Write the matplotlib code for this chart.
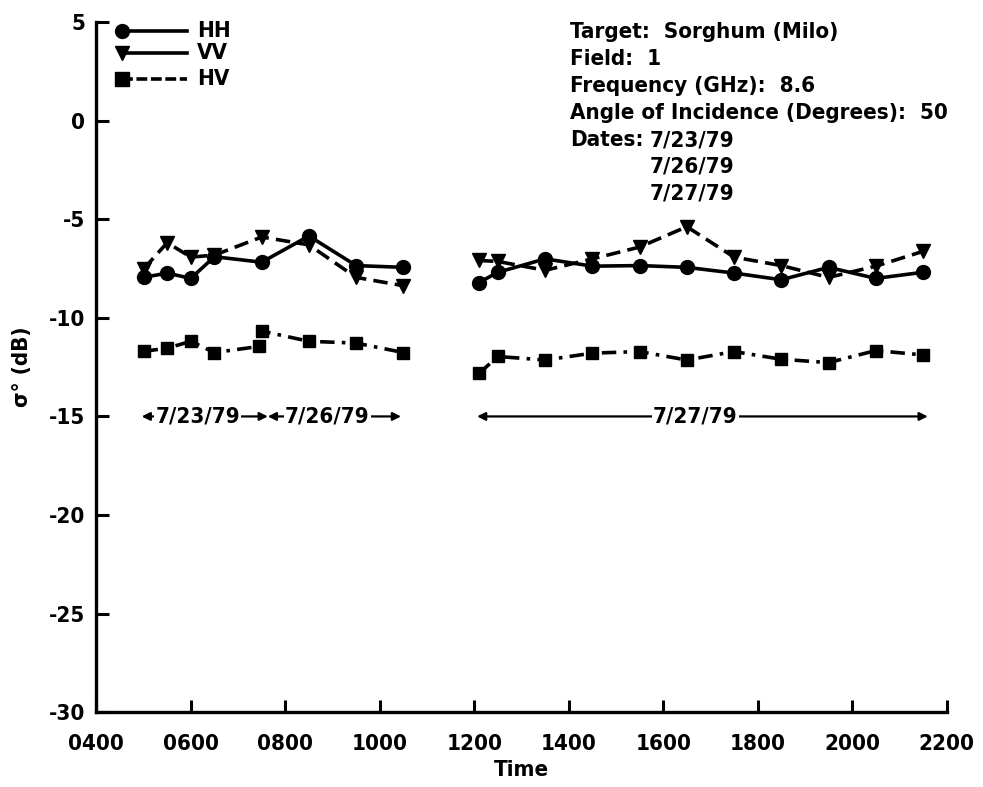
import matplotlib
matplotlib.use("Agg")
import matplotlib.pyplot as plt
from matplotlib.ticker import FixedLocator, FuncFormatter

plt.rcParams["font.family"] = ["DejaVu Sans"]
plt.rcParams["font.stretch"] = "condensed"
plt.rcParams["font.weight"] = "bold"
plt.rcParams["axes.labelweight"] = "bold"
plt.rcParams["axes.unicode_minus"] = False

# time of day in hours; two measurement blocks with a gap between them
time_am = [5.0, 5.5, 6.0, 6.5, 7.5, 8.5, 9.5, 10.5]
hh_am = [-7.95, -7.73, -8.0, -6.9, -7.18, -5.85, -7.35, -7.44]
vv_am = [-7.52, -6.19, -6.92, -6.82, -5.9, -6.3, -7.95, -8.37]
time_hv_am = [5.0, 5.5, 6.0, 6.5, 7.45, 7.5, 8.5, 9.5, 10.5]
hv_am = [-11.7, -11.54, -11.19, -11.76, -11.45, -10.67, -11.19, -11.28, -11.76]

time_pm = [12.1, 12.5, 13.5, 14.5, 15.5, 16.5, 17.5, 18.5, 19.5, 20.5, 21.5]
hh_pm = [-8.21, -7.69, -7.01, -7.38, -7.35, -7.44, -7.73, -8.07, -7.44, -8.0, -7.69]
vv_pm = [-7.09, -7.14, -7.59, -7.01, -6.41, -5.38, -6.92, -7.35, -7.95, -7.38, -6.63]
hv_pm = [-12.82, -11.96, -12.14, -11.79, -11.71, -12.14, -11.71, -12.1, -12.27, -11.66, -11.88]

x_ticks = [4, 6, 8, 10, 12, 14, 16, 18, 20, 22]
y_ticks = [5, 0, -5, -10, -15, -20, -25, -30]

date_spans = [("7/23/79", 4.96, 7.63), ("7/26/79", 7.63, 10.45), ("7/27/79", 12.06, 21.6)]

info_lines = [
    "Target:  Sorghum (Milo)",
    "Field:  1",
    "Frequency (GHz):  8.6",
    "Angle of Incidence (Degrees):  50",
    "Dates:",
]
date_lines = ["7/23/79", "7/26/79", "7/27/79"]

LW = 2.6
MS = 10
FS = 16

fig = plt.figure(figsize=(9.83, 7.87), dpi=100)
ax = fig.add_axes([0.098, 0.095, 0.865, 0.877])

for t, hh, vv in [(time_am, hh_am, vv_am), (time_pm, hh_pm, vv_pm)]:
    ax.plot(t, hh, color="black", lw=LW, ls="-", marker="o", ms=MS)
    ax.plot(t, vv, color="black", lw=LW, ls=(0, (4, 2)), marker="v", ms=MS)
ax.plot(time_hv_am, hv_am, color="black", lw=LW, ls=(0, (4, 2, 1, 2)), marker="s", ms=MS - 1)
ax.plot(time_pm, hv_pm, color="black", lw=LW, ls=(0, (4, 2, 1, 2)), marker="s", ms=MS - 1)

# date range arrows at -15 dB
for label, x0, x1 in date_spans:
    ax.annotate("", xy=(x0, -15), xytext=(x1, -15),
                arrowprops=dict(arrowstyle="<|-|>", color="black", lw=1.6,
                                shrinkA=0, shrinkB=0, mutation_scale=12))
    ax.text((x0 + x1) / 2 - 0.15, -15, label, ha="center", va="center", fontsize=FS,
            bbox=dict(facecolor="white", edgecolor="none", pad=1))

ax.set_xlim(4, 22)
ax.set_ylim(-30, 5)
ax.xaxis.set_major_locator(FixedLocator(x_ticks))
ax.yaxis.set_major_locator(FixedLocator(y_ticks))
ax.xaxis.set_major_formatter(FuncFormatter(lambda v, p: f"{int(round(v * 100)):04d}"))
ax.yaxis.set_major_formatter(FuncFormatter(lambda v, p: f"{int(v)}"))
ax.tick_params(direction="in", length=9, width=2.2, labelsize=FS, pad=8)
ax.tick_params(axis="x", pad=16)
for side in ["top", "right"]:
    ax.spines[side].set_visible(False)
for side in ["left", "bottom"]:
    ax.spines[side].set_linewidth(2.4)

ax.set_xlabel("Time", fontsize=FS, labelpad=4)
ax.set_ylabel("σ° (dB)", fontsize=FS, labelpad=12)

# legend drawn by hand: marker at the left end of a long line
legend_items = [("HH", "o", "-", 0.987), ("VV", "v", "-", 0.955), ("HV", "s", (0, (3, 1)), 0.917)]
for name, mk, ls, yy in legend_items:
    ax.plot([0.03, 0.107], [yy, yy], transform=ax.transAxes, color="black", lw=LW, ls=ls, clip_on=False)
    ax.plot([0.03], [yy], transform=ax.transAxes, color="black", marker=mk, ms=MS, clip_on=False)
    ax.text(0.118, yy, name, transform=ax.transAxes, ha="left", va="center", fontsize=FS)

for i, line in enumerate(info_lines):
    ax.text(0.557, 0.985 - i * 0.039, line, transform=ax.transAxes, ha="left", va="center", fontsize=FS)
for i, line in enumerate(date_lines):
    ax.text(0.651, 0.829 - i * 0.039, line, transform=ax.transAxes, ha="left", va="center", fontsize=FS)

fig.savefig("out.png", dpi=100)
